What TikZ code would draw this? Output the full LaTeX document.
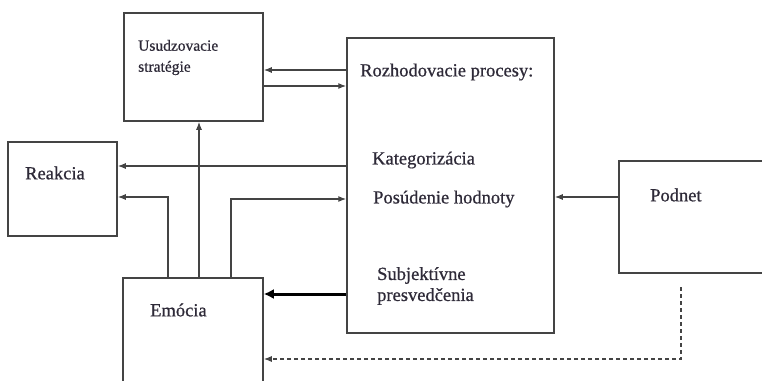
\documentclass[tikz,border=0pt]{standalone}
\usepackage{fontspec}
\setmainfont{Liberation Serif}[FakeBold=0.7]
\usetikzlibrary{arrows.meta}
\definecolor{ln}{HTML}{444444}
\definecolor{tx}{HTML}{2E2A38}
\tikzset{
  box/.style={draw=ln, line width=1.5pt, fill=white, inner sep=0pt},
  lbl/.style={anchor=west, inner sep=0pt, text=tx, align=left, font=\fontsize{18.5}{21}\selectfont},
  slbl/.style={anchor=west, inner sep=0pt, text=tx, align=left, font=\fontsize{15.5}{21}\selectfont},
  arr/.style={draw=ln, line width=1.2pt, -{Latex[length=8pt,width=6pt]}},
  thickarr/.style={draw=black, line width=3pt, -{Latex[length=10pt,width=10pt]}},
  dasharr/.style={draw=ln, line width=1.1pt, dash pattern=on 4pt off 3pt, -{Latex[length=8pt,width=6pt]}}
}
\begin{document}
\begin{tikzpicture}[x=1pt,y=-1pt]
\useasboundingbox (0,0) rectangle (762,380);
\clip (0,0) rectangle (762,380);
\fill[white] (0,0) rectangle (762,380);
% boxes
\node[box, minimum width=139pt, minimum height=108pt] (usu) at (193.5,67) {};
\node[box, minimum width=207pt, minimum height=295pt] (roz) at (450.5,185.5) {};
\node[box, minimum width=109pt, minimum height=94pt] (rea) at (62.5,189) {};
\node[box, minimum width=140pt, minimum height=122pt] (emo) at (193,339) {};
\node[box, minimum width=161pt, minimum height=112pt] (pod) at (699.5,217) {};
% texts
\node[slbl] (tusu) at (138,57.5) {Usudzovacie\\stratégie};
\node[lbl] (troz) at (360,72) {Rozhodovacie procesy:};
\node[lbl] (tkat) at (372,160) {Kategorizácia};
\node[lbl] (tpos) at (373,199) {Posúdenie hodnoty};
\node[lbl] (tsub) at (377,286) {Subjektívne\\presvedčenia};
\node[lbl] (tpod) at (650,195) {Podnet};
\node[lbl] (trea) at (25,173) {Reakcia};
\node[lbl] (temo) at (150,310) {Emócia};
% connectors
\draw[arr] (roz.west |- 0,70) -- (usu.east |- 0,70);
\draw[arr] (usu.east |- 0,86) -- (roz.west |- 0,86);
\draw[arr] (roz.west |- 0,166) -- (rea.east |- 0,166);
\draw[arr] (emo.north -| 199,0) -- (usu.south -| 199,0);
\draw[arr] (emo.north -| 168,0) |- (rea.east |- 0,197);
\draw[arr] (emo.north -| 231,0) |- (roz.west |- 0,199);
\draw[arr] (pod.west |- 0,197) -- (roz.east |- 0,197);
\draw[thickarr] (roz.west |- 0,294) -- (emo.east |- 0,294);
\coordinate (d0) at (681,287);
\draw[dasharr] (d0) -- (681,359) -- (emo.east |- 0,359);
\end{tikzpicture}
\end{document}
